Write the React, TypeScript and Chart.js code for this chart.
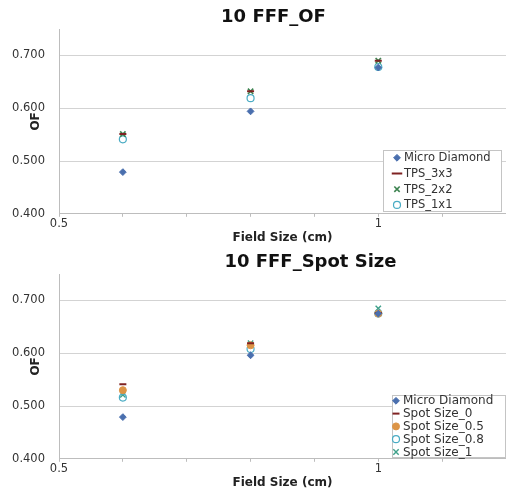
import React, { useEffect, useRef } from 'react';
import { Chart, registerables } from 'chart.js';
import { drawPoint } from 'chart.js/helpers';

Chart.register(...registerables);

// ---------- data ----------
const fieldSizes = [0.6, 0.8, 1.0];
const xLabelledTicks = [0.5, 1];
const yTickValues = [0.4, 0.5, 0.6, 0.7];

const ofTitle = '10 FFF_OF';
const ofSeriesNames = ['Micro Diamond', 'TPS_3x3', 'TPS_2x2', 'TPS_1x1'];
const ofMicroDiamond = [0.479, 0.594, 0.677];
const ofTps3x3 = [0.551, 0.632, 0.69];
const ofTps2x2 = [0.551, 0.632, 0.69];
const ofTps1x1 = [0.541, 0.619, 0.678];

const spotTitle = '10 FFF_Spot Size';
const spotSeriesNames = ['Micro Diamond', 'Spot Size_0', 'Spot Size_0.5', 'Spot Size_0.8', 'Spot Size_1'];
const spotMicroDiamond = [0.479, 0.596, 0.675];
const spotSize0 = [0.541, 0.619, 0.676];
const spotSize05 = [0.53, 0.615, 0.675];
const spotSize08 = [0.516, 0.608, 0.675];
const spotSize1 = [0.521, 0.619, 0.685];

const xAxisTitle = 'Field Size (cm)';
const yAxisTitle = 'OF';

// ---------- styles ----------
const BLUE = '#4a6fae';
const DARKRED = '#7f2222';
const GREEN = '#3d8350';
const TEAL = '#4aacc4';
const ORANGE = '#dc9446';
const TEALGREEN = '#3fa08a';

type Style = { pointStyle: any; color: string; fill: string; radius: number; bw: number };
const sDiamond: Style = { pointStyle: 'rectRot', color: BLUE, fill: BLUE, radius: 3.4, bw: 1 };
const sDash: Style = { pointStyle: 'line', color: DARKRED, fill: DARKRED, radius: 3.5, bw: 2 };
const sCrossGreen: Style = { pointStyle: 'crossRot', color: GREEN, fill: GREEN, radius: 3.8, bw: 1.6 };
const sOpenTeal: Style = { pointStyle: 'circle', color: TEAL, fill: 'rgba(255,255,255,0)', radius: 3.5, bw: 1.2 };
const sOrange: Style = { pointStyle: 'circle', color: ORANGE, fill: ORANGE, radius: 3.5, bw: 1 };
const sCrossTeal: Style = { pointStyle: 'crossRot', color: TEALGREEN, fill: TEALGREEN, radius: 3.8, bw: 1.4 };

function makeDataset(label: string, values: number[], st: Style) {
  return {
    label,
    data: fieldSizes.map((x, i) => ({ x, y: values[i] })),
    showLine: false,
    pointStyle: st.pointStyle,
    pointRadius: st.radius,
    pointHoverRadius: st.radius,
    pointBorderWidth: st.bw,
    pointBorderColor: st.color,
    pointBackgroundColor: st.fill,
    borderColor: st.color,
    backgroundColor: st.fill,
  };
}

const boxLegend = {
  id: 'boxLegend',
  afterDraw(chart: any, _args: any, opts: any) {
    if (!opts || !opts.display) return;
    const { ctx, chartArea } = chart;
    const x1 = chartArea.right - opts.right;
    const x0 = x1 - opts.width;
    const y1 = chartArea.bottom - opts.bottom;
    const y0 = y1 - opts.height;
    ctx.save();
    ctx.fillStyle = '#ffffff';
    ctx.fillRect(x0, y0, opts.width, opts.height);
    ctx.strokeStyle = '#c4c4c4';
    ctx.lineWidth = 1;
    ctx.strokeRect(Math.round(x0) + 0.5, Math.round(y0) + 0.5, opts.width - 1, opts.height - 1);
    ctx.font = opts.font;
    ctx.textBaseline = 'middle';
    ctx.textAlign = 'left';
    chart.data.datasets.forEach((ds: any, i: number) => {
      const cy = y0 + opts.firstRow + i * opts.rowGap;
      ctx.fillStyle = ds.pointBackgroundColor;
      ctx.strokeStyle = ds.pointBorderColor;
      ctx.lineWidth = ds.pointBorderWidth;
      const r = ds.pointStyle === 'line' ? ds.pointRadius * opts.lineScale : ds.pointRadius;
      drawPoint(ctx, { pointStyle: ds.pointStyle, radius: r, rotation: 0, borderWidth: ds.pointBorderWidth }, x0 + opts.markerX, cy);
      ctx.fillStyle = '#333333';
      ctx.fillText(ds.label, x0 + opts.textX, cy + 0.5);
    });
    ctx.restore();
  },
};

const offsetTitle = {
  id: 'offsetTitle',
  afterDraw(chart: any, _args: any, opts: any) {
    if (!opts || !opts.text) return;
    const { ctx, chartArea } = chart;
    ctx.save();
    ctx.font = opts.font;
    ctx.fillStyle = opts.color;
    ctx.textAlign = 'center';
    ctx.textBaseline = 'middle';
    ctx.fillText(opts.text, (chartArea.left + chartArea.right) / 2 + opts.dx, opts.y);
    ctx.restore();
  },
};

function makeConfig(title: string, titleDx: number, datasets: any[], legend: any) {
  return {
    type: 'scatter',
    data: { datasets },
    plugins: [boxLegend, offsetTitle],
    options: {
      responsive: false,
      animation: false,
      devicePixelRatio: 1,
      layout: { autoPadding: false, padding: { left: 0, right: 0, top: 29, bottom: 0 } },
      plugins: {
        legend: { display: false },
        tooltip: { enabled: false },
        title: { display: false },
        offsetTitle: {
          text: title,
          dx: titleDx,
          y: 17,
          color: '#111111',
          font: 'bold 18px "DejaVu Sans", sans-serif',
        },
        boxLegend: legend,
      },
      scales: {
        x: {
          type: 'linear',
          min: 0.5,
          max: 1.2,
          afterFit: (scale: any) => {
            scale.paddingRight = 0;
            scale.paddingLeft = 0;
          },
          border: { color: '#bdbdbd', width: 1 },
          grid: { drawOnChartArea: false, drawTicks: true, tickLength: 3, color: '#bdbdbd' },
          ticks: {
            stepSize: 0.1,
            autoSkip: false,
            maxRotation: 0,
            padding: 0,
            color: '#333333',
            font: { family: '"DejaVu Sans", sans-serif', size: 11.5, lineHeight: 1.2 },
            callback: (v: number) => {
              const hit = xLabelledTicks.find((t) => Math.abs(t - v) < 1e-6);
              return hit === undefined ? '' : String(hit);
            },
          },
          title: {
            display: true,
            text: xAxisTitle,
            color: '#222222',
            font: { family: '"DejaVu Sans", sans-serif', size: 12, weight: 'bold', lineHeight: 1.2 },
            padding: { top: 0, bottom: 0 },
          },
        },
        y: {
          type: 'linear',
          min: 0.4,
          max: 0.75,
          afterBuildTicks: (scale: any) => {
            scale.ticks = yTickValues.map((value) => ({ value }));
          },
          afterFit: (scale: any) => {
            scale.width = 59;
            scale.paddingTop = 0;
            scale.paddingBottom = 0;
          },
          border: { color: '#bdbdbd', width: 1 },
          grid: { drawTicks: false, color: '#d3d3d3', lineWidth: 1 },
          ticks: {
            padding: 14,
            color: '#333333',
            font: { family: '"DejaVu Sans", sans-serif', size: 11.5, lineHeight: 1.2 },
            callback: (v: number) => Number(v).toFixed(3),
          },
          title: {
            display: true,
            text: yAxisTitle,
            color: '#222222',
            font: { family: '"DejaVu Sans", sans-serif', size: 12, weight: 'bold', lineHeight: 1.2 },
            padding: { top: 29, bottom: 0 },
          },
        },
      },
    },
  };
}

function ChartBox({ config }: { config: any }) {
  const ref = useRef<HTMLCanvasElement | null>(null);
  useEffect(() => {
    if (!ref.current) return;
    const chart = new Chart(ref.current, config);
    return () => chart.destroy();
  }, [config]);
  return (
    <div style={{ width: 506, height: 245 }}>
      <canvas ref={ref} width={506} height={245} style={{ display: 'block', width: 506, height: 245 }} />
    </div>
  );
}

const ofConfig = makeConfig(
  ofTitle,
  -9,
  [
    makeDataset(ofSeriesNames[0], ofMicroDiamond, sDiamond),
    makeDataset(ofSeriesNames[1], ofTps3x3, sDash),
    makeDataset(ofSeriesNames[2], ofTps2x2, sCrossGreen),
    makeDataset(ofSeriesNames[3], ofTps1x1, sOpenTeal),
  ],
  {
    display: true,
    right: 4,
    bottom: 2,
    width: 119,
    height: 62,
    firstRow: 8,
    rowGap: 15.7,
    markerX: 14,
    textX: 21,
    lineScale: 1.5,
    font: '11.5px "DejaVu Sans", sans-serif',
  }
);

const spotConfig = makeConfig(
  spotTitle,
  28,
  [
    makeDataset(spotSeriesNames[0], spotMicroDiamond, sDiamond),
    makeDataset(spotSeriesNames[1], spotSize0, sDash),
    makeDataset(spotSeriesNames[2], spotSize05, sOrange),
    makeDataset(spotSeriesNames[3], spotSize08, sOpenTeal),
    makeDataset(spotSeriesNames[4], spotSize1, sCrossTeal),
  ],
  {
    display: true,
    right: 0,
    bottom: 1,
    width: 114,
    height: 63,
    firstRow: 6,
    rowGap: 12.8,
    markerX: 4,
    textX: 11,
    lineScale: 1,
    font: '12px "DejaVu Sans", sans-serif',
  }
);

export default function App() {
  useEffect(() => {
    document.body.style.margin = '0';
    document.body.style.background = '#ffffff';
  }, []);
  return (
    <div style={{ width: 506, height: 490, background: '#ffffff' }}>
      <ChartBox config={ofConfig} />
      <ChartBox config={spotConfig} />
    </div>
  );
}
